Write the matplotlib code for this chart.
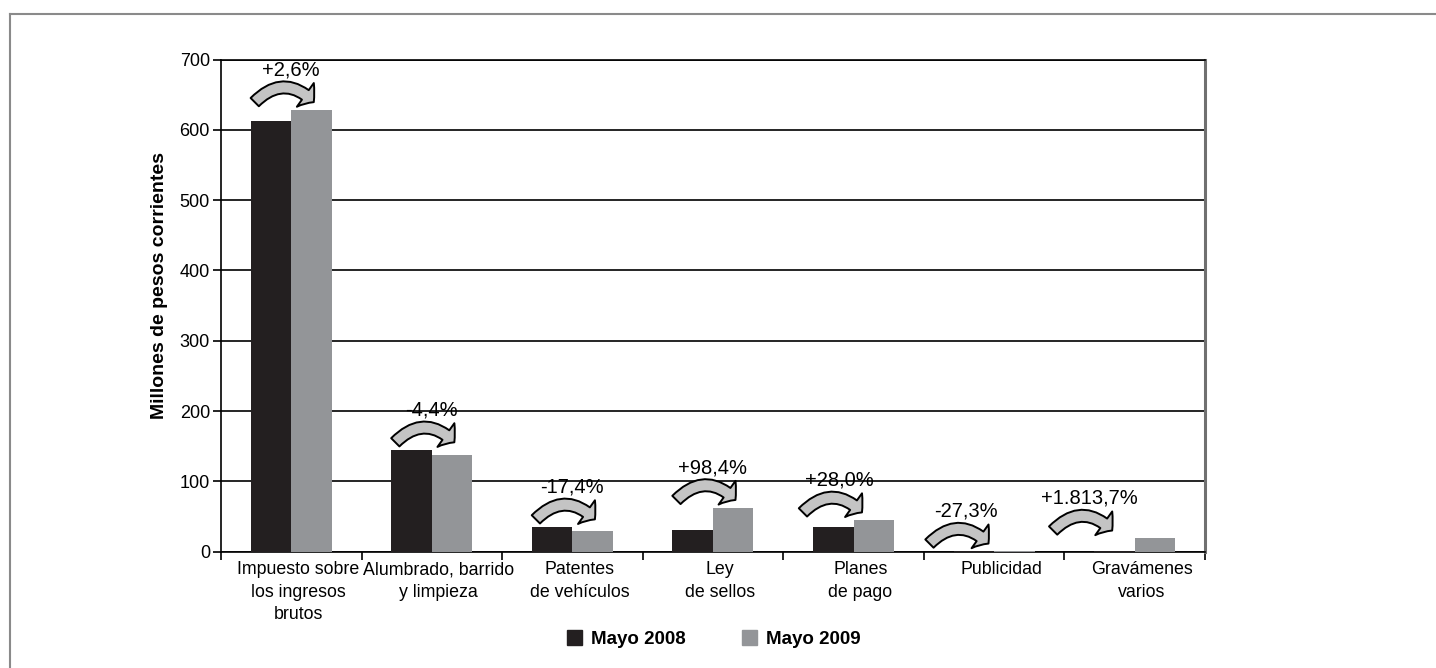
import numpy as np
import matplotlib
matplotlib.use("Agg")
import matplotlib.pyplot as plt
from matplotlib.patches import FancyArrowPatch, Patch
from matplotlib.lines import Line2D
from matplotlib.transforms import ScaledTranslation

plt.rcParams['font.family'] = ['Liberation Sans', 'DejaVu Sans']

# data (millones de pesos corrientes)
categorias = ['Impuesto sobre\nlos ingresos\nbrutos', 'Alumbrado, barrido\ny limpieza',
              'Patentes\nde vehículos', 'Ley\nde sellos', 'Planes\nde pago',
              'Publicidad', 'Gravámenes\nvarios']
mayo_2008 = [612.5, 144.6, 35.0, 31.2, 35.1, 0.55, 1.0]
mayo_2009 = [628.4, 138.2, 28.9, 62.6, 44.9, 0.40, 19.1]
variacion = ['+2,6%', '-4,4%', '-17,4%', '+98,4%', '+28,0%', '-27,3%', '+1.813,7%']
series = ['Mayo 2008', 'Mayo 2009']

col_08 = '#231f20'
col_09 = '#939598'

# small horizontal nudges for the curved arrows (layout only)
arrow_shift = [0.0, 0.0, 0.0, 0.0, -0.1, -0.2, -0.32]

fig = plt.figure(figsize=(14.36, 6.68), dpi=100)
ax = fig.add_axes([0.1539, 0.1741, 0.6852, 0.7368])

x = np.arange(len(categorias))
w = 0.288
ax.bar(x - w / 2, mayo_2008, w, color=col_08, zorder=3)
ax.bar(x + w / 2, mayo_2009, w, color=col_09, zorder=3)

ax.set_xlim(-0.5, len(categorias) - 0.5)
ax.set_ylim(0, 700)
ax.set_yticks(np.arange(0, 701, 100))
ax.yaxis.grid(True, color='black', lw=1.2, zorder=0)
ax.set_axisbelow(True)

# category ticks sit on the boundaries; names drawn as text a bit right of centre
ax.set_xticks(np.arange(-0.5, len(categorias)))
ax.set_xticklabels([])
ax.tick_params(axis='x', length=6, width=1.2, direction='out')
ax.tick_params(axis='y', length=6, width=1.2, pad=2, labelsize=13)
off = ScaledTranslation(5 / 72, -7 / 72, fig.dpi_scale_trans)
for i, name in enumerate(categorias):
    ax.text(i, 0, name, transform=ax.get_xaxis_transform() + off,
            ha='center', va='top', fontsize=12.8, linespacing=1.4)

for s in ['left', 'bottom', 'top']:
    ax.spines[s].set_color('black')
    ax.spines[s].set_linewidth(1.2)
ax.spines['right'].set_color('#707070')
ax.spines['right'].set_linewidth(2.2)

ax.set_ylabel('Millones de pesos corrientes', fontsize=14, fontweight='bold')
ax.yaxis.set_label_coords(-0.054, 0.54)

# curved arrows with the % change
for i in range(len(categorias)):
    base = max(mayo_2008[i], mayo_2009[i]) + 11
    d = arrow_shift[i]
    arr = FancyArrowPatch((i - 0.26 + d, base), (i + 0.16 + d, base),
                          connectionstyle='arc3,rad=-0.5',
                          arrowstyle='simple,head_length=0.4,head_width=1.05,tail_width=0.42',
                          mutation_scale=20, facecolor='#c4c4c4', edgecolor='black',
                          lw=1.4, shrinkA=0, shrinkB=0, zorder=5, transform=ax.transData)
    ax.add_patch(arr)
    ax.text(i + 0.0 + d, base + 46, variacion[i], ha='center', va='center',
            fontsize=14.5, zorder=6)

handles = [Patch(color=col_08), Patch(color=col_09)]
fig.legend(handles, series, loc='center', bbox_to_anchor=(0.497, 0.043), ncol=2,
           frameon=False, prop={'weight': 'bold', 'size': 13.5},
           handlelength=0.8, handleheight=0.8, handletextpad=0.5, columnspacing=3)

# light frame at top/left of the figure
fig.add_artist(Line2D([10 / 1436, 1], [1 - 14 / 668, 1 - 14 / 668], color='#8a8a8a', lw=1.5))
fig.add_artist(Line2D([10 / 1436, 10 / 1436], [0, 1 - 14 / 668], color='#8a8a8a', lw=1.5))

fig.savefig('out.png', dpi=100, facecolor='white')
